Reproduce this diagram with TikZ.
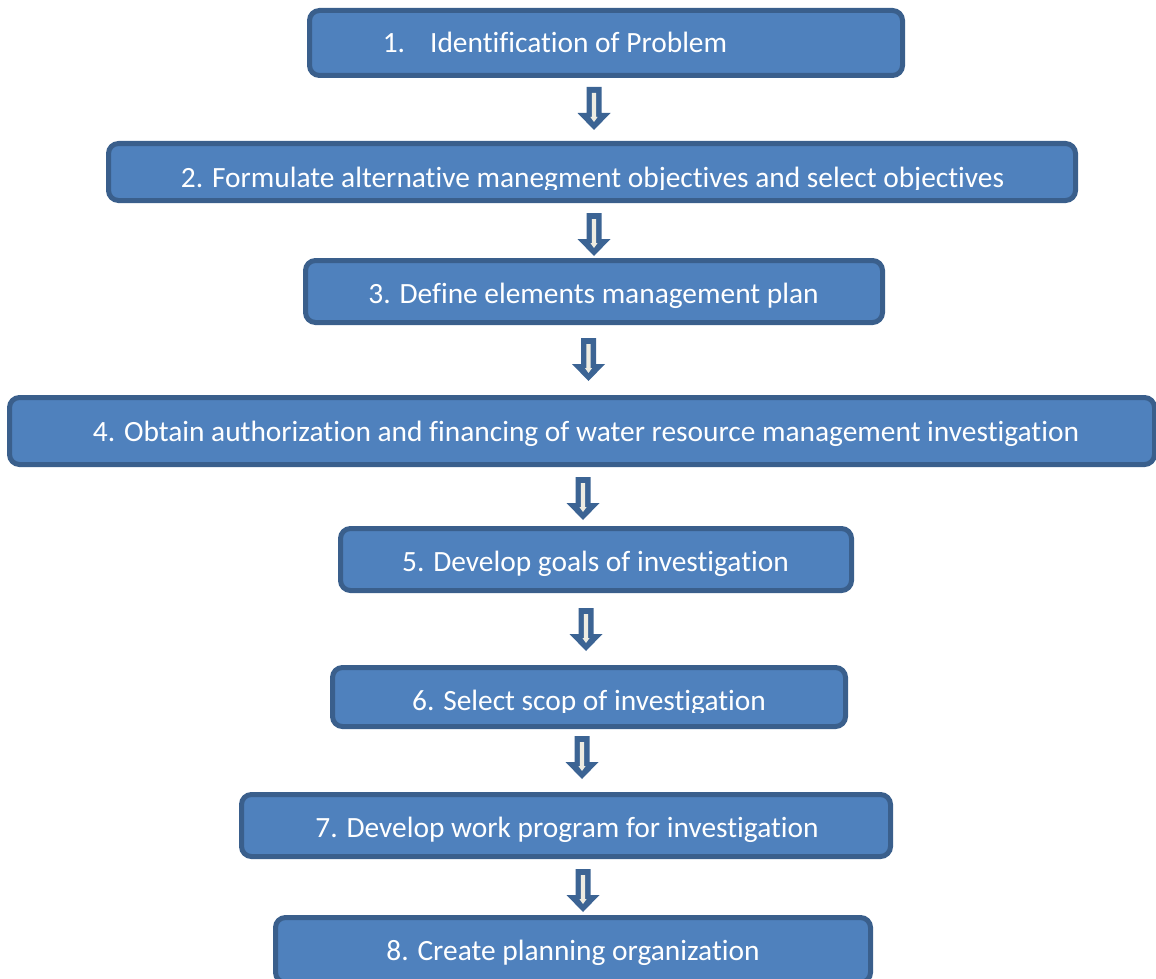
\documentclass[tikz,border=0pt]{standalone}
\usepackage{fontspec}
\setmainfont{Carlito}[Ligatures=CommonOff]
\definecolor{boxfill}{HTML}{4F81BD}
\definecolor{boxline}{HTML}{3A5F8C}
\definecolor{arrowline}{HTML}{3C6494}
\definecolor{arrowcore}{HTML}{EEECE1}
\begin{document}
\begin{tikzpicture}[x=1pt,y={(0pt,-1pt)},
  stepbox/.style={draw=boxline,fill=boxfill,line width=5pt,rounded corners=10pt,
    inner sep=0pt,rectangle},
  steptext/.style={anchor=base,text=white,inner sep=0pt,font=\fontsize{29.4}{34}\selectfont},
  downarrow/.pic={
    \fill[arrowline] (-7.5,0) -- (7.5,0) -- (7.5,26) -- (16.5,26) -- (0,43)
      -- (-16.5,26) -- (-7.5,26) -- cycle;
    \fill[arrowcore] (-2.2,6) -- (2.2,6) -- (2.2,30) -- (3.6,30) -- (0,35)
      -- (-3.6,30) -- (-2.2,30) -- cycle;
  }]
\useasboundingbox (0,0) rectangle (1156,979);
\clip (0,0) rectangle (1156,979);

% step boxes
\node[stepbox,minimum width=593pt,minimum height=65pt] (b1) at (606,43) {};
\node[stepbox,minimum width=967pt,minimum height=57pt] (b2) at (592,172) {};
\node[stepbox,minimum width=577pt,minimum height=62pt] (b3) at (594,291.5) {};
\node[stepbox,minimum width=1145pt,minimum height=67pt] (b4) at (582,431) {};
\node[stepbox,minimum width=511pt,minimum height=62pt] (b5) at (596,559.5) {};
\node[stepbox,minimum width=513pt,minimum height=59pt] (b6) at (589,697) {};
\node[stepbox,minimum width=649pt,minimum height=62pt] (b7) at (566,825.5) {};
\node[stepbox,minimum width=595pt,minimum height=65pt] (b8) at (573,950) {};

% step labels
\node[steptext] (t1) at (555,53) {1.\hspace{25pt}Identification of Problem};
\begin{scope}
  \clip (0,0) rectangle (1156,189);
  \node[steptext] (t2) at (592.5,187) {2. Formulate alternative manegment objectives and select objectives};
\end{scope}
\node[steptext] (t3) at (593.5,303) {3. Define elements management plan};
\node[steptext] (t4) at (586,441) {4. Obtain authorization and financing of water resource management investigation};
\node[steptext] (t5) at (595.5,571) {5. Develop goals of investigation};
\begin{scope}
  \clip (0,0) rectangle (1156,712.5);
  \node[steptext] (t6) at (589,710) {6. Select scop of investigation};
\end{scope}
\node[steptext] (t7) at (567,837) {7. Develop work program for investigation};
\node[steptext] (t8) at (573,960) {8. Create planning organization};

% block arrows between steps
\pic at (594,87) {downarrow};
\pic at (594,213) {downarrow};
\pic at (588.5,338) {downarrow};
\pic at (583,477) {downarrow};
\pic at (586,608) {downarrow};
\pic at (582,736) {downarrow};
\pic at (583,869) {downarrow};
\end{tikzpicture}
\end{document}
